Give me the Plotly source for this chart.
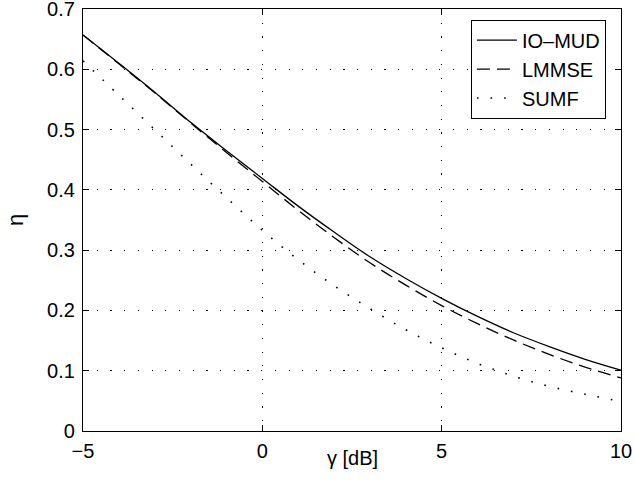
import plotly.graph_objects as go

gamma_db = [-5, -4, -3, -2, -1, 0, 1, 2, 3, 4, 5, 6, 7, 8, 9, 10]
io_mud = [0.657, 0.610, 0.562, 0.512, 0.465, 0.419, 0.373, 0.330, 0.289, 0.253, 0.220, 0.190, 0.163, 0.140, 0.119, 0.101]
lmmse = [0.657, 0.609, 0.561, 0.511, 0.462, 0.414, 0.366, 0.321, 0.279, 0.242, 0.208, 0.178, 0.151, 0.127, 0.106, 0.088]
sumf = [0.614, 0.557, 0.500, 0.443, 0.387, 0.333, 0.284, 0.241, 0.203, 0.168, 0.138, 0.112, 0.091, 0.074, 0.061, 0.049]

x_ticks = [-5, 0, 5, 10]
x_ticklabels = ["\u22125", "0", "5", "10"]
y_ticks = [0, 0.1, 0.2, 0.3, 0.4, 0.5, 0.6, 0.7]
y_ticklabels = ["0", "0.1", "0.2", "0.3", "0.4", "0.5", "0.6", "0.7"]
x_title = "\u03b3 [dB]"
y_title = "\u03b7"

FONT = "Liberation Sans, Arial, Helvetica"
FS = 20

fig = go.Figure()
fig.add_trace(go.Scatter(x=gamma_db, y=io_mud, mode="lines", name="IO\u2013MUD",
                         line=dict(color="black", width=1.3, shape="spline")))
fig.add_trace(go.Scatter(x=gamma_db, y=lmmse, mode="lines", name="LMMSE",
                         line=dict(color="black", width=1.3, dash="13px,7px", shape="spline")))
fig.add_trace(go.Scatter(x=gamma_db, y=sumf, mode="lines", name="SUMF",
                         line=dict(color="black", width=1.6, dash="1.6px,12px", shape="spline")))

axis_common = dict(
    showline=True, linecolor="black", linewidth=1.2, mirror="ticks",
    ticks="inside", ticklen=6, tickcolor="black", tickwidth=1,
    showgrid=True, gridcolor="black", gridwidth=1, griddash="1.2px,12.5px",
    zeroline=False, automargin=False, ticklabeloverflow="allow",
    tickfont=dict(family=FONT, size=FS, color="black"),
)

fig.update_xaxes(range=[-5, 10], tickvals=x_ticks, ticktext=x_ticklabels,
                 ticklabelstandoff=2, **axis_common)
fig.update_yaxes(range=[0, 0.7], tickvals=y_ticks, ticktext=y_ticklabels,
                 ticklabelstandoff=3, **axis_common)

fig.add_annotation(text=x_title, xref="paper", yref="paper", x=0.5, y=0,
                   xanchor="center", yanchor="middle", yshift=-27, showarrow=False,
                   font=dict(family=FONT, size=FS, color="black"))
fig.add_annotation(text=y_title, xref="paper", yref="paper", x=0, y=0.5,
                   xanchor="center", yanchor="middle", xshift=-68, textangle=-90,
                   showarrow=False, font=dict(family=FONT, size=FS + 2, color="black"))

fig.update_layout(
    width=634, height=481,
    margin=dict(l=83, r=13, t=9, b=50),
    paper_bgcolor="white", plot_bgcolor="white",
    font=dict(family=FONT, size=FS, color="black"),
    legend=dict(x=0.972, y=0.975, xanchor="right", yanchor="top",
                bgcolor="white", bordercolor="black", borderwidth=1,
                font=dict(size=FS), tracegroupgap=0, itemwidth=40,
                entrywidth=140, entrywidthmode="pixels"),
    showlegend=True,
)

fig.write_html("out.html", config={"displayModeBar": False},
               post_script="document.body.style.margin='0';document.body.style.overflow='hidden';")
